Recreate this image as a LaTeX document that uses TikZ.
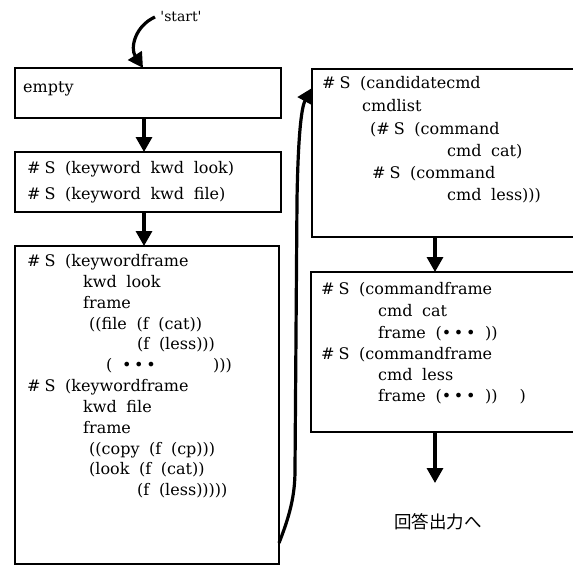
\documentclass[tikz,border=0pt]{standalone}
\usepackage{fontspec}
\setmainfont{DejaVu Serif}[WordSpace=1.9]
\newfontfamily\cjk{Noto Sans CJK JP}
\usetikzlibrary{arrows.meta,calc}
\newcommand\hs{\#\hspace{4pt}S}
\tikzset{
  frm/.style={draw, line width=1.9pt, anchor=north west, inner sep=0pt, outer sep=0pt},
  ln/.style={anchor=base west, inner sep=0pt, font=\fontsize{16}{20}\selectfont},
  flow/.style={line width=3.2pt, -{Triangle[width=16pt,length=15pt]}},
}
\begin{document}
\begin{tikzpicture}[x=1pt,y=-1pt]
\useasboundingbox (0,0) rectangle (573,566);
% frames of the left column
\node[frm, minimum width=266pt, minimum height=50pt]  (b1) at (15,68) {};
\node[frm, minimum width=266pt, minimum height=60pt]  (b2) at (15,152) {};
\node[frm, minimum width=264pt, minimum height=318pt] (b3) at (15,246) {};
% frames of the right column (running past the right edge)
\begin{scope}
\clip (0,0) rectangle (573,566);
\node[frm, minimum width=280pt, minimum height=168pt] (b4) at (312,69) {};
\node[frm, minimum width=280pt, minimum height=160pt] (b5) at (311,272) {};
\end{scope}

% box 1
\node[ln] (t1) at (23,92) {empty};
% box 2
\node[ln] (t2a) at (27,173) {\hs{} (keyword kwd look)};
\node[ln] (t2b) at (27,199) {\hs{} (keyword kwd file)};
% box 3
\node[ln] (t3a) at (27,266)  {\hs{} (keywordframe};
\node[ln] (t3b) at (83,287)  {kwd look};
\node[ln] (t3c) at (83,308)  {frame};
\node[ln] (t3d) at (89,329)  {((file (f (cat))};
\node[ln] (t3e) at (137,349) {(f (less)))};
\node[ln] (t3f) at (106,370) {( \textbullet\,\textbullet\,\textbullet};
\node[ln] (t3g) at (213,370) {)))};
\node[ln] (t3h) at (27,391)  {\hs{} (keywordframe};
\node[ln] (t3i) at (83,412)  {kwd file};
\node[ln] (t3j) at (83,433)  {frame};
\node[ln] (t3k) at (89,454)  {((copy (f (cp)))};
\node[ln] (t3l) at (89,474)  {(look (f (cat))};
\node[ln] (t3m) at (137,495) {(f (less)))))};
% box 4
\node[ln] (t4a) at (322,88)  {\hs{} (candidatecmd};
\node[ln] (t4b) at (362,111) {cmdlist};
\node[ln] (t4c) at (370,134) {(\hs{} (command};
\node[ln] (t4d) at (447,156) {cmd cat)};
\node[ln] (t4e) at (372,178) {\hs{} (command};
\node[ln] (t4f) at (447,200) {cmd less)))};
% box 5
\node[ln] (t5a) at (321,294) {\hs{} (commandframe};
\node[ln] (t5b) at (378,316) {cmd cat};
\node[ln] (t5c) at (378,338) {frame (\textbullet\,\textbullet\,\textbullet\ ))};
\node[ln] (t5d) at (321,359) {\hs{} (commandframe};
\node[ln] (t5e) at (378,380) {cmd less};
\node[ln] (t5f) at (378,401) {frame (\textbullet\,\textbullet\,\textbullet\ )) \ \,)};

% start label and result label
\node[inner sep=0pt, font=\fontsize{14}{16}\selectfont] (st) at (181,16)
  {\textquotesingle start\textquotesingle};
\node[inner sep=0pt, font=\cjk\fontsize{17.5}{20}\selectfont] (out) at (438,522) {回答出力へ};

% connectors
\coordinate (s0) at (155,17);
\draw[flow] (s0) .. controls (135,26) and (130,48) .. ([xshift=-5pt]b1.north);
\draw[flow] ([xshift=-4pt]b1.south) -- ([xshift=-4pt]b2.north);
\draw[flow] ([xshift=-4pt]b2.south) -- ([xshift=-3pt]b3.north);
\coordinate (c0) at ($(b3.east)+(0,138)$);
\draw[flow] (c0) .. controls (290,515) and (295,495) .. (295,470)
  -- (297,200) .. controls (298,140) and (301,108) .. ($(b4.north west)+(0,19)$);
\coordinate (d4) at (435,237);
\coordinate (d5) at (435,272);
\draw[flow] (d4) -- (d5);
\coordinate (e5) at (435,432);
\coordinate (e6) at (435,483);
\draw[flow] (e5) -- (e6);
\end{tikzpicture}
\end{document}
